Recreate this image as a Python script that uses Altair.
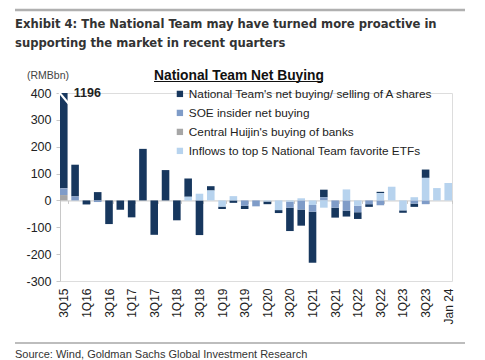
import altair as alt
import pandas as pd

quarters = ["3Q15", "4Q15", "1Q16", "2Q16", "3Q16", "4Q16", "1Q17", "2Q17", "3Q17", "4Q17",
            "1Q18", "2Q18", "3Q18", "4Q18", "1Q19", "2Q19", "3Q19", "4Q19", "1Q20", "2Q20",
            "3Q20", "4Q20", "1Q21", "2Q21", "3Q21", "4Q21", "1Q22", "2Q22", "3Q22", "4Q22",
            "1Q23", "2Q23", "3Q23", "4Q23", "Jan 24"]
tick_labels = ["3Q15", "1Q16", "3Q16", "1Q17", "3Q17", "1Q18", "3Q18", "1Q19", "3Q19", "1Q20",
               "3Q20", "1Q21", "3Q21", "1Q22", "3Q22", "1Q23", "3Q23", "Jan 24"]
y_ticks = [-300, -200, -100, 0, 100, 200, 300, 400]

nt_buying = [1196, 118, -15, 31, -88, -35, -63, 192, -128, 113,
             -74, 68, -129, 16, -9, -9, -12, 0, -10, -11,
             -87, -60, -190, 28, -37, -22, -25, -10, 5, 0,
             -9, -12, 31, 0, 0]
soe_insider = [25, 15, 0, -6, 0, 0, 0, 0, 0, 0,
               0, 0, 0, 0, 0, 0, -20, -22, 0, 0,
               -22, -34, -25, 12, -27, -38, -24, -14, -18, 0,
               0, -12, -14, 0, 0]
huijin_banks = [20, 0, 0, 0, 0, 0, 0, 0, 0, 0,
                0, 0, 0, 0, 0, 0, 0, 0, 0, 0,
                0, 0, 0, 0, 0, 0, 0, 0, 0, 0,
                0, 0, 0, 0, 0]
etf_inflows = [0, 0, 0, 0, 0, 0, 0, 0, 0, 0,
               0, 14, 25, 37, -23, 16, 0, 0, -4, -36,
               -5, 8, -17, -27, 0, 41, -20, 0, 27, 51,
               -37, 12, 84, 46, 65]

series_names = ["National Team's net buying/ selling of A shares",
                "SOE insider net buying",
                "Central Huijin's buying of banks",
                "Inflows to top 5 National Team favorite ETFs"]
series_colors = ["#17375e", "#7f9cc8", "#a6a6a6", "#b7d3ee"]
stack_order = [3, 2, 0, 1]

rows = []
for name, vals, o in zip(series_names, [nt_buying, soe_insider, huijin_banks, etf_inflows], stack_order):
    for q, v in zip(quarters, vals):
        if v != 0:
            rows.append({"quarter": q, "series": name, "value": v, "ord": o})
df = pd.DataFrame(rows)

FONT = "Liberation Sans"
W, H = 392, 188
y_scale = alt.Scale(domain=[-300, 400], nice=False, zero=False)
zero_offset = -(H * 300 / 700)

x_scale = alt.Scale(domain=quarters, paddingInner=0.33, paddingOuter=0.0)
x_axis = alt.Axis(title=None, values=tick_labels, labelAngle=-90, labelFontSize=12,
                  labelFont=FONT, labelColor="#222", orient="bottom",
                  offset=zero_offset, domainColor="#c8c8c8", domainWidth=1,
                  tickColor="#c8c8c8", tickSize=3, tickBand="extent",
                  labelPadding=-zero_offset + 4, labelOverlap=False, grid=False)
y_axis = alt.Axis(title=None, values=y_ticks, labelExpr="'' + datum.value",
                  labelFontSize=12.5, labelFont=FONT, labelColor="#222",
                  domainColor="#c8c8c8", tickColor="#c8c8c8", tickSize=4,
                  labelPadding=5, labelOverlap=False, labelFlush=False, grid=False)

bars = alt.Chart(df).mark_bar(clip=True).encode(
    x=alt.X("quarter:N", sort=quarters, scale=x_scale, axis=x_axis),
    y=alt.Y("value:Q", stack="zero", scale=y_scale, axis=y_axis),
    color=alt.Color("series:N", scale=alt.Scale(domain=series_names, range=series_colors),
                    legend=alt.Legend(title=None, orient="none", legendX=114, legendY=-5,
                                      symbolType="square", symbolSize=40, symbolStrokeWidth=0,
                                      labelFontSize=11.8, labelFont=FONT, labelColor="#222",
                                      labelOffset=3, rowPadding=6, padding=0, labelLimit=400)),
    order=alt.Order("ord:Q"),
)

label_df = pd.DataFrame({"quarter": ["3Q15"], "value": [400], "txt": ["1196"]})
big_label = alt.Chart(label_df).mark_text(
    align="left", baseline="middle", dx=10, fontWeight="bold", fontSize=12.5, font=FONT, color="#222"
).encode(x=alt.X("quarter:N", sort=quarters, scale=x_scale, axis=x_axis),
         y=alt.Y("value:Q", scale=y_scale, axis=y_axis), text="txt:N")

break_df = pd.DataFrame({"quarter": ["3Q15"], "value": [382]})
break_mark = alt.Chart(break_df).mark_point(
    shape="stroke", angle=50, size=220, stroke="white", strokeWidth=2.2, filled=False, opacity=1
).encode(x=alt.X("quarter:N", sort=quarters, scale=x_scale, axis=x_axis),
         y=alt.Y("value:Q", scale=y_scale, axis=y_axis))

def txt(s, x, y, size, bold=False, color="#222", font=FONT, align="left", baseline="alphabetic"):
    return alt.Chart(pd.DataFrame({"t": [s]})).mark_text(
        align=align, baseline=baseline, fontSize=size, font=font,
        fontWeight="bold" if bold else "normal", color=color
    ).encode(x=alt.value(x), y=alt.value(y), text="t:N")

title_font = "DejaVu Sans Condensed, Liberation Sans, sans-serif"
t1 = txt("Exhibit 4: The National Team may have turned more proactive in", -45, -65, 12.9, True, "#333", title_font)
t2 = txt("supporting the market in recent quarters", -45, -46.5, 12.9, True, "#333", title_font)
unit = txt("(RMBbn)", -33, -14, 10.5, False, "#444")
leg_title = txt("National Team Net Buying", 94, -13.5, 13.8, True, "#111")
underline = alt.Chart(pd.DataFrame({"a": [0]})).mark_rule(color="#111", strokeWidth=1).encode(
    x=alt.value(94), x2=alt.value(263), y=alt.value(-11.5))
top_line = alt.Chart(pd.DataFrame({"a": [0]})).mark_rule(color="#b0b0b0", strokeWidth=2.5).encode(
    x=alt.value(-45), x2=alt.value(405), y=alt.value(-83))
src_line = alt.Chart(pd.DataFrame({"a": [0]})).mark_rule(color="#bdbdbd", strokeWidth=2).encode(
    x=alt.value(-45), x2=alt.value(405), y=alt.value(250))
source = txt("Source: Wind, Goldman Sachs Global Investment Research", -45, 256, 11, False, "#333",
             baseline="top")

chart = alt.layer(bars, big_label, break_mark, t1, t2, unit, leg_title, underline,
                  top_line, src_line, source).properties(
    width=W, height=H, autosize="none",
    padding={"left": 52, "top": 85, "right": 17, "bottom": 79},
).configure_view(stroke=None).configure_axisY(labelOverlap=False).configure(background="white")

chart.save("out.html", embed_options={"renderer": "svg", "actions": False})
